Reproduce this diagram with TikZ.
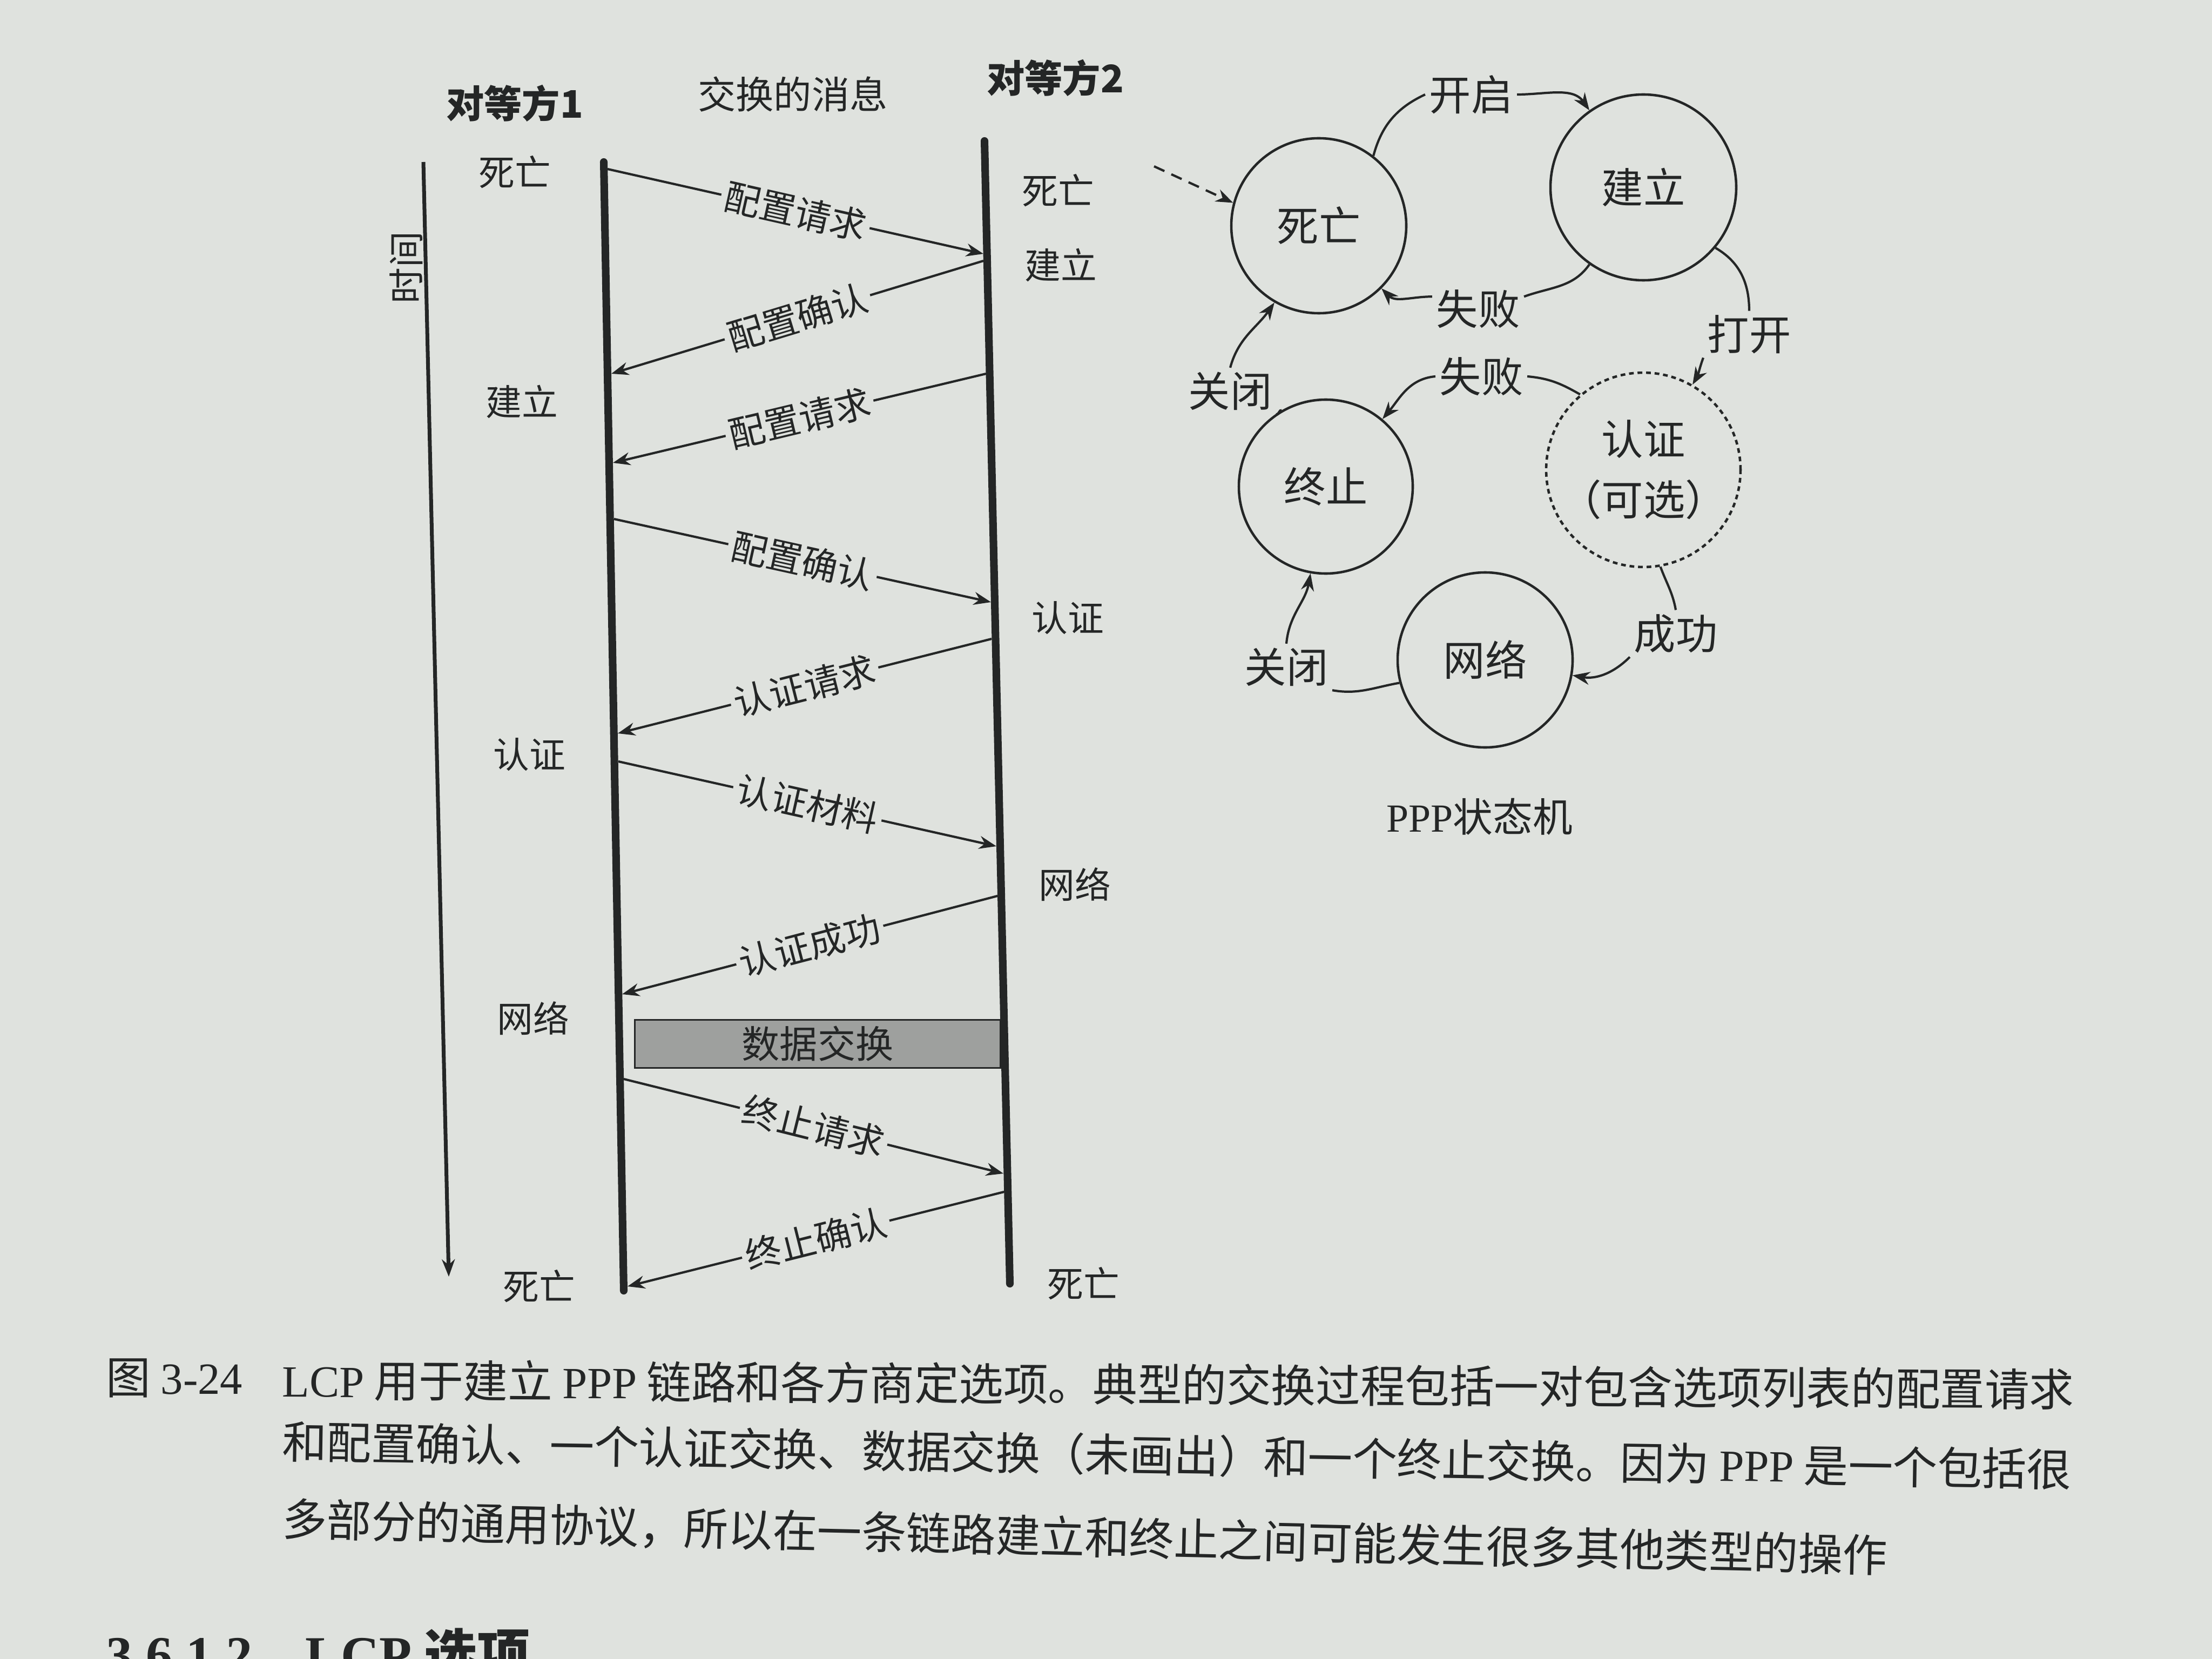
\documentclass[tikz,border=0pt]{standalone}
\usepackage{fontspec}
\setmainfont{Noto Sans CJK SC}
\newfontfamily\latf{Liberation Serif}
\usetikzlibrary{arrows.meta}
\definecolor{paper}{RGB}{223,226,222}
\definecolor{ink}{RGB}{36,38,38}
\definecolor{dataG}{RGB}{158,160,158}
\newcommand\lt[1]{{\latf #1}}

\begin{document}
\begin{tikzpicture}[>={Stealth[length=3.2mm,width=2.4mm]}, color=ink,
  txt/.style={font=\fontsize{19}{22}\selectfont, inner sep=1pt},
  head/.style={font=\fontsize{20}{24}\selectfont\bfseries},
  tag/.style={txt, fill=paper, sloped, inner sep=2pt},
  msg/.style={->, line width=1.2pt},
  life/.style={line width=4pt, line cap=round},
  st/.style={circle, draw, line width=1.3pt, minimum size=#1, inner sep=0pt, font=\fontsize{22}{32}\selectfont, align=center},
  ev/.style={font=\fontsize{22}{26}\selectfont, inner sep=2pt},
  tr/.style={line width=1.2pt},
  capl/.style={font=\fontsize{23.5}{28}\selectfont, inner sep=0pt, anchor=west}]
\fill[paper] (0,0) rectangle (40.96,-30.72);
\useasboundingbox (0,0) rectangle (40.96,-30.72);

% sequence of LCP messages
\node[head] (h1) at (9.53,-1.91) {对等方1};
\node[txt, font=\fontsize{20}{24}\selectfont] (h2) at (14.68,-1.75) {交换的消息};
\node[head] (h3) at (19.54,-1.44) {对等方2};

\coordinate (t0) at (7.84,-3.00); \coordinate (t1) at (8.31,-23.64);
\draw[->, line width=2pt] (t0) -- (t1);
\node[txt, rotate=90] (tlab) at (7.52,-4.96) {时间};

\coordinate (p1t) at (11.18,-3.00); \coordinate (p1b) at (11.55,-23.90);
\coordinate (p2t) at (18.23,-2.61); \coordinate (p2b) at (18.70,-23.77);
\draw[life] (p1t) -- (p1b);
\draw[life] (p2t) -- (p2b);

\foreach \p/\t [count=\i] in {{9.53,-3.19}/死亡, {9.66,-7.44}/建立, {9.80,-13.97}/认证, {9.87,-18.86}/网络, {9.98,-23.82}/死亡}
  \node[txt] (l\i) at (\p) {\t};
\foreach \p/\t [count=\i] in {{19.59,-3.53}/死亡, {19.64,-4.91}/建立, {19.77,-11.44}/认证, {19.90,-16.38}/网络, {20.06,-23.77}/死亡}
  \node[txt] (r\i) at (\p) {\t};

\foreach \a/\b/\t [count=\i] in {
    {11.25,-3.13}/{18.21,-4.70}/配置请求,
    {18.21,-4.83}/{11.32,-6.92}/配置确认,
    {18.26,-6.92}/{11.35,-8.57}/配置请求,
    {11.37,-9.61}/{18.35,-11.15}/配置确认,
    {18.36,-11.83}/{11.44,-13.58}/认证请求,
    {11.45,-14.10}/{18.45,-15.67}/认证材料,
    {18.47,-16.59}/{11.52,-18.41}/认证成功,
    {11.55,-19.98}/{18.58,-21.73}/终止请求,
    {18.59,-22.07}/{11.62,-23.82}/终止确认}{
  \coordinate (ms\i) at (\a); \coordinate (me\i) at (\b);
  \draw[msg] (ms\i) -- node[tag] (mt\i) {\t} (me\i);
}
\node[draw, line width=1pt, fill=dataG, minimum width=6.77cm, minimum height=0.89cm,
  inner sep=0pt, font=\fontsize{20}{24}\selectfont] (data) at (15.14,-19.33) {数据交换};

% PPP state machine
\node[st=3.24cm] (dead) at (24.42,-4.18) {死亡};
\node[st=3.44cm] (estab) at (30.43,-3.47) {建立};
\node[st=3.04cm, dash pattern=on 2.5pt off 2pt] (auth) at (30.43,-8.70) {认证\\（可选）};
\node[st=3.22cm] (term) at (24.55,-9.01) {终止};
\node[st=3.24cm] (net) at (27.50,-12.22) {网络};

\node[ev] (lopen) at (27.24,-1.75) {开启};
\node[ev] (lfail1) at (27.37,-5.72) {失败};
\node[ev] (lup) at (32.39,-6.19) {打开};
\node[ev] (lfail2) at (27.43,-6.97) {失败};
\node[ev] (lclose1) at (22.78,-7.24) {关闭};
\node[ev] (lsucc) at (31.03,-11.73) {成功};
\node[ev] (lclose2) at (23.82,-12.35) {关闭};
\node[font=\fontsize{21}{24}\selectfont] (fsm) at (27.40,-15.12) {\lt{PPP}状态机};

\coordinate (src) at (21.37,-3.08);
\draw[tr, ->, dash pattern=on 6pt off 4pt] (src) -- (dead.165);
\draw[tr] (dead.52) to[out=75,in=205] (lopen.west);
\draw[tr, ->] (lopen.east) to[out=0,in=125] (estab.125);
\draw[tr] (estab.235) to[out=235,in=20] (lfail1.15);
\draw[tr, ->] (lfail1.165) to[out=180,in=-45] (dead.-45);
\draw[tr] (estab.-40) to[out=-30,in=90] (lup.north);
\draw[tr, ->] (lup.south west) to[out=-110,in=60] (auth.60);
\draw[tr] (auth.130) to[out=150,in=-5] (lfail2.east);
\draw[tr, ->] (lfail2.west) to[out=185,in=50] (term.50);
\draw[tr] (term.120) to[out=160,in=-20] (lclose1.south east);
\draw[tr, ->] (lclose1.north) to[out=75,in=235] (dead.240);
\draw[tr] (auth.-80) to[out=-70,in=100] (lsucc.north);
\draw[tr, ->] (lsucc.south west) to[out=-135,in=-10] (net.-10);
\draw[tr] (net.195) to[out=190,in=-10] (lclose2.south east);
\draw[tr, ->] (lclose2.north) to[out=85,in=-100] (term.-100);

% caption
\node[capl] (fig) at (1.96,-25.52) {图 \lt{3-24}};
\node[capl, rotate=-0.3] (c1) at (5.22,-25.55) {\lt{LCP} 用于建立 \lt{PPP} 链路和各方商定选项。典型的交换过程包括一对包含选项列表的配置请求};
\node[capl, rotate=-0.9] (c2) at (5.22,-26.69) {和配置确认、一个认证交换、数据交换（未画出）和一个终止交换。因为 \lt{PPP} 是一个包括很};
\node[capl, rotate=-1.3] (c3) at (5.22,-28.13) {多部分的通用协议，所以在一条链路建立和终止之间可能发生很多其他类型的操作};
\node[capl, font=\fontsize{28}{30}\selectfont\bfseries] (sec) at (1.96,-30.62) {\lt{3.6.1.2}\quad\lt{LCP} 选项};
\end{tikzpicture}
\end{document}
